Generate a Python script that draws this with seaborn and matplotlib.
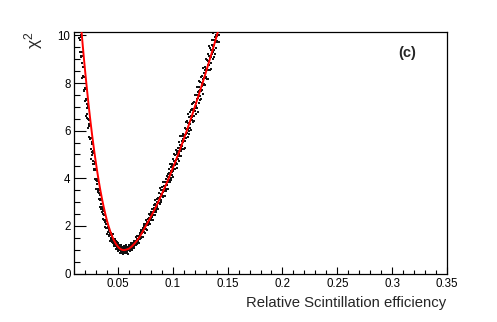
import matplotlib
matplotlib.use("Agg")
import matplotlib.pyplot as plt
from matplotlib.ticker import MultipleLocator, FuncFormatter
import seaborn as sns
import pandas as pd

# ---------------- data ----------------
scan_x = [
    0.01500, 0.01525, 0.01550, 0.01575, 0.01600, 0.01625, 0.01650, 0.01675, 0.01700, 0.01725,
    0.01750, 0.01775, 0.01800, 0.01825, 0.01850, 0.01875, 0.01900, 0.01925, 0.01950, 0.01975,
    0.02000, 0.02025, 0.02050, 0.02075, 0.02100, 0.02125, 0.02150, 0.02175, 0.02200, 0.02225,
    0.02250, 0.02275, 0.02300, 0.02325, 0.02350, 0.02375, 0.02400, 0.02425, 0.02450, 0.02475,
    0.02500, 0.02525, 0.02550, 0.02575, 0.02600, 0.02625, 0.02650, 0.02675, 0.02700, 0.02725,
    0.02750, 0.02775, 0.02800, 0.02825, 0.02850, 0.02875, 0.02900, 0.02925, 0.02950, 0.02975,
    0.03000, 0.03025, 0.03050, 0.03075, 0.03100, 0.03125, 0.03150, 0.03175, 0.03200, 0.03225,
    0.03250, 0.03275, 0.03300, 0.03325, 0.03350, 0.03375, 0.03400, 0.03425, 0.03450, 0.03475,
    0.03500, 0.03525, 0.03550, 0.03575, 0.03600, 0.03625, 0.03650, 0.03675, 0.03700, 0.03725,
    0.03750, 0.03775, 0.03800, 0.03825, 0.03850, 0.03875, 0.03900, 0.03925, 0.03950, 0.03975,
    0.04000, 0.04025, 0.04050, 0.04075, 0.04100, 0.04125, 0.04150, 0.04175, 0.04200, 0.04225,
    0.04250, 0.04275, 0.04300, 0.04325, 0.04350, 0.04375, 0.04400, 0.04425, 0.04450, 0.04475,
    0.04500, 0.04525, 0.04550, 0.04575, 0.04600, 0.04625, 0.04650, 0.04675, 0.04700, 0.04725,
    0.04750, 0.04775, 0.04800, 0.04825, 0.04850, 0.04875, 0.04900, 0.04925, 0.04950, 0.04975,
    0.05000, 0.05025, 0.05050, 0.05075, 0.05100, 0.05125, 0.05150, 0.05175, 0.05200, 0.05225,
    0.05250, 0.05275, 0.05300, 0.05325, 0.05350, 0.05375, 0.05400, 0.05425, 0.05450, 0.05475,
    0.05500, 0.05525, 0.05550, 0.05575, 0.05600, 0.05625, 0.05650, 0.05675, 0.05700, 0.05725,
    0.05750, 0.05775, 0.05800, 0.05825, 0.05850, 0.05875, 0.05900, 0.05925, 0.05950, 0.05975,
    0.06000, 0.06025, 0.06050, 0.06075, 0.06100, 0.06125, 0.06150, 0.06175, 0.06200, 0.06225,
    0.06250, 0.06275, 0.06300, 0.06325, 0.06350, 0.06375, 0.06400, 0.06425, 0.06450, 0.06475,
    0.06500, 0.06525, 0.06550, 0.06575, 0.06600, 0.06625, 0.06650, 0.06675, 0.06700, 0.06725,
    0.06750, 0.06775, 0.06800, 0.06825, 0.06850, 0.06875, 0.06900, 0.06925, 0.06950, 0.06975,
    0.07000, 0.07025, 0.07050, 0.07075, 0.07100, 0.07125, 0.07150, 0.07175, 0.07200, 0.07225,
    0.07250, 0.07275, 0.07300, 0.07325, 0.07350, 0.07375, 0.07400, 0.07425, 0.07450, 0.07475,
    0.07500, 0.07525, 0.07550, 0.07575, 0.07600, 0.07625, 0.07650, 0.07675, 0.07700, 0.07725,
    0.07750, 0.07775, 0.07800, 0.07825, 0.07850, 0.07875, 0.07900, 0.07925, 0.07950, 0.07975,
    0.08000, 0.08025, 0.08050, 0.08075, 0.08100, 0.08125, 0.08150, 0.08175, 0.08200, 0.08225,
    0.08250, 0.08275, 0.08300, 0.08325, 0.08350, 0.08375, 0.08400, 0.08425, 0.08450, 0.08475,
    0.08500, 0.08525, 0.08550, 0.08575, 0.08600, 0.08625, 0.08650, 0.08675, 0.08700, 0.08725,
    0.08750, 0.08775, 0.08800, 0.08825, 0.08850, 0.08875, 0.08900, 0.08925, 0.08950, 0.08975,
    0.09000, 0.09025, 0.09050, 0.09075, 0.09100, 0.09125, 0.09150, 0.09175, 0.09200, 0.09225,
    0.09250, 0.09275, 0.09300, 0.09325, 0.09350, 0.09375, 0.09400, 0.09425, 0.09450, 0.09475,
    0.09500, 0.09525, 0.09550, 0.09575, 0.09600, 0.09625, 0.09650, 0.09675, 0.09700, 0.09725,
    0.09750, 0.09775, 0.09800, 0.09825, 0.09850, 0.09875, 0.09900, 0.09925, 0.09950, 0.09975,
    0.10000, 0.10025, 0.10050, 0.10075, 0.10100, 0.10125, 0.10150, 0.10175, 0.10200, 0.10225,
    0.10250, 0.10275, 0.10300, 0.10325, 0.10350, 0.10375, 0.10400, 0.10425, 0.10450, 0.10475,
    0.10500, 0.10525, 0.10550, 0.10575, 0.10600, 0.10625, 0.10650, 0.10675, 0.10700, 0.10725,
    0.10750, 0.10775, 0.10800, 0.10825, 0.10850, 0.10875, 0.10900, 0.10925, 0.10950, 0.10975,
    0.11000, 0.11025, 0.11050, 0.11075, 0.11100, 0.11125, 0.11150, 0.11175, 0.11200, 0.11225,
    0.11250, 0.11275, 0.11300, 0.11325, 0.11350, 0.11375, 0.11400, 0.11425, 0.11450, 0.11475,
    0.11500, 0.11525, 0.11550, 0.11575, 0.11600, 0.11625, 0.11650, 0.11675, 0.11700, 0.11725,
    0.11750, 0.11775, 0.11800, 0.11825, 0.11850, 0.11875, 0.11900, 0.11925, 0.11950, 0.11975,
    0.12000, 0.12025, 0.12050, 0.12075, 0.12100, 0.12125, 0.12150, 0.12175, 0.12200, 0.12225,
    0.12250, 0.12275, 0.12300, 0.12325, 0.12350, 0.12375, 0.12400, 0.12425, 0.12450, 0.12475,
    0.12500, 0.12525, 0.12550, 0.12575, 0.12600, 0.12625, 0.12650, 0.12675, 0.12700, 0.12725,
    0.12750, 0.12775, 0.12800, 0.12825, 0.12850, 0.12875, 0.12900, 0.12925, 0.12950, 0.12975,
    0.13000, 0.13025, 0.13050, 0.13075, 0.13100, 0.13125, 0.13150, 0.13175, 0.13200, 0.13225,
    0.13250, 0.13275, 0.13300, 0.13325, 0.13350, 0.13375, 0.13400, 0.13425, 0.13450, 0.13475,
    0.13500, 0.13525, 0.13550, 0.13575, 0.13600, 0.13625, 0.13650, 0.13675, 0.13700, 0.13725,
    0.13750, 0.13775, 0.13800, 0.13825, 0.13850, 0.13875, 0.13900, 0.13925, 0.13950, 0.13975,
    0.14000, 0.14025, 0.14050, 0.14075, 0.14100, 0.14125, 0.14150, 0.14175, 0.14200,
]

scan_chi2 = [
    9.88, 10.25, 9.32, 9.79, 10.01, 9.13, 9.95, 9.08, 9.30, 8.23, 8.86, 8.29, 9.12, 8.30, 8.68, 7.69, 8.25, 8.69, 7.65, 7.76,
    7.26, 7.80, 7.34, 7.74, 6.60, 7.27, 6.71, 6.97, 7.11, 6.53, 7.05, 6.11, 6.50, 6.26, 5.73, 6.43, 6.19, 5.71, 6.30, 5.63,
    5.64, 5.25, 5.69, 4.83, 5.42, 5.53, 4.96, 5.10, 4.61, 5.05, 4.73, 5.16, 4.39, 4.59, 4.36, 4.67, 3.99, 4.34, 4.37, 3.94,
    4.36, 3.94, 3.53, 3.96, 3.76, 3.90, 3.46, 3.97, 3.43, 3.54, 3.13, 3.37, 3.52, 3.08, 3.28, 2.79, 3.10, 2.94, 3.12, 2.69,
    3.10, 2.78, 2.57, 2.76, 2.27, 2.70, 2.49, 2.66, 2.23, 2.45, 2.26, 2.62, 2.15, 2.23, 1.94, 2.22, 2.07, 1.90, 2.21, 1.92,
    2.06, 1.66, 1.91, 1.74, 1.97, 1.76, 1.83, 1.58, 1.93, 1.61, 1.69, 1.38, 1.72, 1.61, 1.48, 1.71, 1.47, 1.56, 1.33, 1.59,
    1.41, 1.64, 1.30, 1.38, 1.43, 1.17, 1.36, 1.25, 1.47, 1.17, 1.34, 1.24, 1.35, 1.03, 1.24, 1.32, 1.12, 1.21, 1.03, 1.30,
    1.09, 1.19, 0.96, 1.10, 1.19, 1.00, 1.10, 0.87, 1.12, 0.99, 1.21, 0.94, 1.03, 0.88, 1.06, 0.98, 1.12, 0.89, 1.03, 0.82,
    0.98, 1.08, 0.92, 1.15, 0.87, 1.03, 0.97, 1.11, 0.85, 1.07, 0.95, 1.20, 0.94, 1.02, 0.90, 1.13, 0.98, 1.09, 0.84, 1.06,
    1.18, 0.97, 1.11, 1.06, 1.20, 0.96, 1.18, 1.05, 1.11, 1.30, 1.03, 1.18, 0.99, 1.26, 1.15, 1.27, 1.08, 1.35, 1.17, 1.27,
    1.07, 1.38, 1.27, 1.34, 1.22, 1.53, 1.20, 1.36, 1.46, 1.32, 1.56, 1.24, 1.46, 1.41, 1.58, 1.36, 1.56, 1.28, 1.52, 1.69,
    1.46, 1.63, 1.55, 1.82, 1.49, 1.68, 1.79, 1.52, 1.80, 1.70, 1.91, 1.55, 1.84, 1.73, 2.10, 1.74, 1.89, 1.98, 1.72, 2.09,
    1.91, 2.05, 1.86, 2.24, 2.02, 2.18, 1.81, 2.13, 2.30, 2.07, 2.17, 2.02, 2.35, 2.16, 2.52, 2.14, 2.35, 2.08, 2.45, 2.32,
    2.58, 2.24, 2.49, 2.43, 2.73, 2.38, 2.55, 2.25, 2.70, 2.58, 2.44, 2.86, 2.59, 2.77, 2.47, 2.90, 2.66, 3.08, 2.65, 2.83,
    2.58, 2.99, 2.84, 3.12, 2.74, 3.02, 2.69, 3.18, 3.01, 3.17, 2.95, 3.39, 2.91, 3.21, 3.11, 3.59, 3.07, 3.35, 2.99, 3.51,
    3.33, 3.24, 3.63, 3.20, 3.51, 3.41, 3.84, 3.26, 3.68, 3.48, 3.61, 3.24, 3.83, 3.65, 3.99, 3.55, 3.85, 3.48, 3.85, 4.08,
    3.73, 4.06, 3.56, 3.94, 4.19, 3.91, 4.37, 3.85, 4.21, 3.85, 4.18, 4.58, 4.03, 4.30, 3.91, 4.48, 4.25, 4.62, 4.12, 4.50,
    4.31, 4.79, 4.06, 4.54, 4.74, 4.39, 5.01, 4.56, 4.73, 4.37, 4.96, 4.63, 4.77, 5.17, 4.60, 5.00, 4.43, 5.09, 4.92, 5.27,
    4.80, 5.13, 4.71, 5.52, 5.04, 5.41, 4.93, 5.29, 5.77, 5.14, 5.32, 4.93, 5.57, 5.36, 5.78, 5.24, 5.63, 5.25, 5.85, 5.52,
    5.80, 5.25, 5.76, 6.12, 5.58, 5.80, 5.29, 6.08, 5.87, 6.38, 5.70, 6.09, 5.90, 6.39, 5.73, 6.33, 6.09, 6.72, 6.00, 6.29,
    5.86, 6.59, 6.26, 6.80, 6.12, 6.60, 6.49, 6.02, 6.87, 6.43, 7.14, 6.59, 6.91, 6.38, 6.87, 7.18, 6.60, 6.91, 6.42, 7.19,
    6.94, 7.49, 6.83, 7.16, 6.69, 7.48, 7.05, 7.84, 6.97, 7.48, 7.33, 6.79, 7.62, 7.37, 7.84, 7.18, 7.66, 8.10, 7.44, 7.69,
    7.28, 8.03, 7.65, 8.26, 7.35, 8.02, 7.87, 8.28, 7.71, 8.63, 7.90, 8.17, 7.56, 8.43, 8.20, 7.94, 8.69, 8.23, 8.54, 7.92,
    8.54, 9.01, 8.27, 8.58, 8.18, 8.96, 8.53, 9.20, 8.18, 8.92, 8.76, 9.12, 8.56, 9.56, 8.75, 9.07, 8.55, 9.47, 9.11, 8.86,
    9.38, 8.58, 9.58, 9.22, 9.82, 9.02, 9.54, 9.29, 10.09, 9.09, 9.81, 9.61, 9.37, 10.13, 9.21, 9.93, 9.73, 10.17, 9.49, 10.01,
    9.77, 10.53, 9.73, 9.97, 10.37, 9.73, 10.25, 10.01, 9.73,
]

fit_x = [0.0165, 0.0175, 0.0190, 0.0205, 0.0220, 0.0235, 0.0250, 0.0265, 0.0280, 0.0295,
         0.0310, 0.0325, 0.0340, 0.0355, 0.0370, 0.0385, 0.0400, 0.0415, 0.0430, 0.0445,
         0.0460, 0.0475, 0.0490, 0.0505, 0.0520, 0.0535, 0.0555, 0.0575, 0.0600, 0.0625,
         0.0650, 0.0675, 0.0700, 0.0725, 0.0750, 0.0775, 0.0800, 0.0825, 0.0850, 0.0875,
         0.0900, 0.0925, 0.0950, 0.0975, 0.1000, 0.1025, 0.1050, 0.1075, 0.1100, 0.1125,
         0.1150, 0.1175, 0.1200, 0.1225, 0.1250, 0.1275, 0.1300, 0.1325, 0.1350, 0.1375,
         0.1400, 0.1425]
fit_chi2 = [10.35, 9.82, 9.05, 8.33, 7.65, 7.00, 6.39, 5.82, 5.29, 4.79,
            4.33, 3.90, 3.50, 3.14, 2.81, 2.51, 2.23, 1.99, 1.78, 1.59,
            1.43, 1.30, 1.19, 1.10, 1.04, 1.00, 0.98, 1.00, 1.04, 1.13,
            1.25, 1.39, 1.55, 1.75, 1.96, 2.17, 2.38, 2.60, 2.83, 3.08,
            3.33, 3.59, 3.85, 4.13, 4.42, 4.71, 5.01, 5.32, 5.64, 5.96,
            6.29, 6.63, 6.98, 7.33, 7.69, 8.05, 8.42, 8.80, 9.18, 9.57,
            9.97, 10.37]

x_ticks = [0.05, 0.1, 0.15, 0.2, 0.25, 0.3, 0.35]
y_ticks = [0, 2, 4, 6, 8, 10]

x_title = "Relative Scintillation efficiency"
y_title = r"$\chi^{2}$"
panel_tag = "(c)"

# ---------------- figure ----------------
sns.set_style("white")
plt.rcParams["font.family"] = ["Liberation Sans", "DejaVu Sans"]
plt.rcParams["mathtext.fontset"] = "custom"
plt.rcParams["mathtext.rm"] = "Liberation Sans"
plt.rcParams["mathtext.it"] = "Liberation Sans"

fig = plt.figure(figsize=(4.97, 3.22), dpi=100)
ax = fig.add_axes([0.1489, 0.1506, 0.7505, 0.749])

scan = pd.DataFrame({"x": scan_x, "chi2": scan_chi2})
fit = pd.DataFrame({"x": fit_x, "chi2": fit_chi2})

sns.scatterplot(data=scan, x="x", y="chi2", ax=ax, color="#111111", marker="s",
                s=1.2, linewidth=0, zorder=2)
sns.lineplot(data=fit, x="x", y="chi2", ax=ax, color="#ff0000", linewidth=1.4,
             sort=False, estimator=None, zorder=3)

ax.set_xlim(0.01, 0.35)
ax.set_ylim(0, 10.13)
ax.set_xlabel("")
ax.set_ylabel("")

ax.set_xticks(x_ticks)
ax.set_yticks(y_ticks)
ax.xaxis.set_minor_locator(MultipleLocator(0.01))
ax.yaxis.set_minor_locator(MultipleLocator(0.5))
ax.xaxis.set_major_formatter(FuncFormatter(lambda v, p: "%g" % round(v, 4)))
ax.yaxis.set_major_formatter(FuncFormatter(lambda v, p: "%g" % v))

ax.tick_params(axis="x", which="major", direction="in", length=5.0, width=0.8,
               labelsize=8.3, pad=3, bottom=True, top=False, colors="black")
ax.tick_params(axis="x", which="minor", direction="in", length=2.9, width=0.8,
               bottom=True, top=False, colors="black")
ax.tick_params(axis="y", which="major", direction="in", length=8.6, width=0.8,
               labelsize=8.3, pad=2.5, left=True, right=False, colors="black")
ax.tick_params(axis="y", which="minor", direction="in", length=4.3, width=0.8,
               left=True, right=False, colors="black")

for sp in ax.spines.values():
    sp.set_color("black")
    sp.set_linewidth(0.9)
    sp.set_visible(True)

fig.text(446 / 497, 1 - 306.5 / 322, x_title, ha="right", va="baseline", fontsize=10.7)
fig.text(34 / 497, 1 - 31 / 322, y_title, rotation=90, ha="center", va="top", fontsize=12.5)
fig.text(407 / 497, 1 - 53.5 / 322, panel_tag, ha="center", va="center",
         fontsize=10.5, fontweight="bold")

fig.savefig("out.png", dpi=100)
